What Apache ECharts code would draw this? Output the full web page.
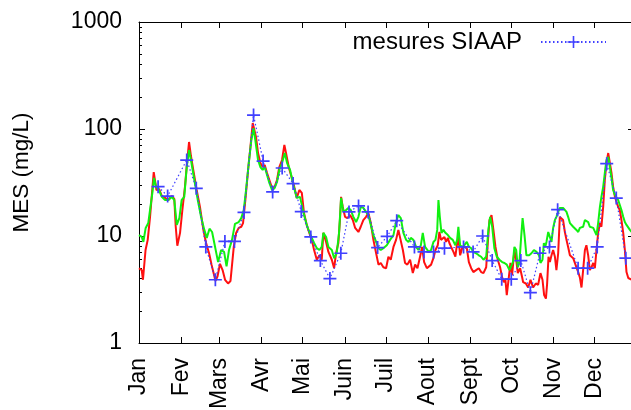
<!DOCTYPE html>
<html>
<head>
<meta charset="utf-8">
<script src="https://cdn.jsdelivr.net/npm/echarts@6/dist/echarts.min.js"></script>
<style>
  html, body { margin: 0; padding: 0; background: #fff; }
  #chart { width: 631px; height: 410px; }
</style>
</head>
<body>
<div id="chart"></div>
<script>
// Month labels on the day-of-year axis
const monthNames = ['Jan', 'Fev', 'Mars', 'Avr', 'Mai', 'Juin', 'Juil', 'Aout', 'Sept', 'Oct', 'Nov', 'Dec'];
const monthStartDays = [0, 31, 59, 90, 120, 151, 181, 212, 243, 273, 304, 334];

// Log axis ticks
const yMajorTicks = [1, 10, 100, 1000];
const yMinorTicks = [2, 3, 4, 5, 6, 7, 8, 9, 20, 30, 40, 50, 60, 70, 80, 90, 200, 300, 400, 500, 600, 700, 800, 900];

// Modelled MES, red curve (day of year, mg/L)
const redDays = [0, 2, 2.9, 4.8, 6.4, 8.1, 9.3, 10.8, 12.8, 14.7,
  16.7, 19.1, 21.5, 24, 25.9, 26.9, 28.1, 30.1, 31.8, 33.7,
  35.4, 36.7, 38.1, 39.8, 42.3, 44.7, 47.2, 49.2, 51.4, 53.2,
  56.1, 57.6, 59.4, 61.3, 63.1, 65.3, 67.1, 69.5, 71.2, 73.1,
  75, 76.3, 78, 80, 81.7, 83.4, 84.4, 85.8, 87.3, 89,
  90.7, 92.2, 93.9, 95.6, 97.6, 99.5, 101.2, 102.9, 104.9, 106.6,
  107.8, 109.8, 110.8, 113.2, 115.7, 117.6, 119.4, 121, 123, 124.9,
  126.7, 128.4, 130.4, 132.3, 134, 135.2, 137.2, 138.9, 141.4, 143.1,
  144.5, 146.2, 147.5, 148.2, 149.4, 151.1, 152.8, 154.8, 156.8, 158.5,
  160.9, 162.6, 164.5, 166.5, 168.2, 170, 171.9, 173.9, 175.6, 177.3,
  179.2, 181.2, 182.9, 184.6, 186.6, 188.5, 190.2, 191.5, 193.5, 195.1,
  196.8, 198.8, 200.8, 202.5, 204.2, 206.1, 207.6, 209.1, 211.1, 212.5,
  214.2, 215.9, 217.4, 219.1, 220.3, 221.5, 222.8, 224, 225.2, 226.5,
  227.6, 228.9, 230.6, 232, 233.1, 234.2, 235.5, 237, 238.6, 240.4,
  241.9, 243.6, 245.2, 247.2, 249.2, 250.9, 252.6, 254.6, 255.8, 257,
  258.5, 259.9, 261.4, 263.1, 264.8, 266.3, 267.5, 268.7, 269.7, 271.2,
  272.4, 273.6, 275.3, 276.6, 277.8, 279.5, 281, 281.7, 283.7, 285.4,
  287.1, 289, 291, 292.7, 294.4, 295.9, 297.1, 298.4, 299.3, 300.3,
  301.3, 302.5, 303.7, 305, 306.1, 307.4, 308.6, 309.8, 311, 312.3,
  313.5, 314.7, 316, 317.1, 318.4, 319.6, 320.8, 322.1, 323.3, 324.5,
  325.7, 327, 328.1, 329.4, 330.6, 331.8, 333.1, 334.3, 335.5, 336.7,
  338, 339.1, 340.4, 341.6, 342.8, 344.1, 345.3, 346.5, 347.7, 349,
  350.2, 351.4, 352.6, 353.8, 355.1, 356.3, 357.5, 358.8, 360, 361.2];
const redValues = [5.0, 4.8, 3.9, 7.4, 9.2, 15.1, 23.2, 39.6, 26.9, 27.5,
  23.7, 22.7, 21.7, 23.7, 22.2, 12.4, 8.1, 10.7, 17.5, 28.8,
  51.3, 75.6, 55.9, 41.4, 26.9, 18.7, 11.4, 8.6, 6.9, 5.4,
  3.8, 4.2, 5.5, 4.8, 3.9, 3.6, 3.8, 7.9, 10.7, 11.9,
  12.2, 13.2, 21.7, 41.4, 67.9, 113.8, 118.8, 84.2, 59.6, 48.1,
  44.1, 46.1, 38.8, 33.4, 28.1, 28.8, 33.4, 44.1, 51.3, 70.9,
  59.6, 44.1, 39.6, 31.3, 22.7, 26.9, 25.3, 16.4, 12.7, 10.7,
  9.2, 7.4, 6.0, 6.6, 6.0, 10.7, 8.8, 7.1, 6.0, 5.0,
  6.9, 8.6, 15.1, 23.2, 18.7, 15.1, 14.7, 15.7, 14.1, 11.9,
  10.9, 12.2, 14.1, 15.1, 16.4, 13.2, 9.2, 6.9, 5.4, 5.6,
  5.1, 5.0, 6.4, 6.0, 7.9, 9.2, 11.4, 9.6, 7.4, 5.6,
  5.4, 6.0, 4.5, 5.4, 5.0, 6.4, 7.9, 5.7, 5.0, 5.1,
  5.4, 6.2, 7.4, 8.2, 10.9, 9.2, 9.6, 9.8, 8.8, 9.6,
  8.6, 7.9, 7.1, 6.4, 8.2, 9.8, 6.6, 7.7, 7.9, 7.7,
  5.7, 5.0, 4.6, 4.8, 5.0, 4.6, 4.5, 5.1, 8.6, 14.1,
  15.7, 11.4, 7.9, 6.0, 5.1, 4.1, 3.7, 3.9, 2.8, 4.1,
  5.6, 4.3, 7.4, 6.0, 4.5, 5.0, 4.1, 3.7, 3.6, 3.3,
  3.9, 3.3, 3.6, 3.5, 4.5, 3.9, 2.8, 2.6, 3.6, 6.4,
  5.7, 6.6, 7.4, 6.4, 4.8, 6.9, 15.1, 15.7, 14.1, 10.9,
  9.2, 7.9, 6.6, 6.4, 6.2, 6.0, 5.1, 4.6, 4.1, 3.3,
  4.8, 7.4, 8.2, 6.6, 4.8, 5.1, 5.6, 5.0, 7.4, 10.7,
  13.2, 12.2, 18.7, 33.4, 48.1, 59.6, 48.1, 38.8, 28.8, 23.2,
  20.8, 18.7, 17.5, 14.1, 10.7, 7.4, 4.6, 4.05, 3.9, 3.9];

// Modelled MES, green curve (day of year, mg/L)
const greenDays = [0, 2, 3.2, 4.9, 6.8, 8.1, 9.8, 11, 12.5, 14.7,
  16.7, 19.1, 21.5, 24, 25.9, 27.7, 29.6, 31.3, 33.2, 35,
  36.7, 38.1, 40.6, 43.1, 45.5, 47.9, 49.7, 51.7, 53.6, 55.8,
  58, 60.2, 62.4, 64.2, 66, 68.2, 70.4, 73.1, 75, 76.8,
  78.5, 80.5, 82.4, 83.9, 85.3, 87.3, 89, 90.7, 92.2, 93.9,
  95.6, 97.6, 99.5, 101.2, 102.9, 104.9, 106.9, 108.6, 110.8, 113.2,
  115.7, 118.1, 120.5, 123, 124.9, 126.7, 128.4, 130.4, 132.3, 134,
  135.2, 137.2, 138.9, 141.4, 143.1, 145, 146.7, 148.2, 149.9, 151.9,
  153.5, 155.3, 157.2, 159.2, 160.9, 162.6, 164.5, 166.5, 168.2, 170,
  171.9, 173.9, 175.6, 177.3, 179.2, 181.7, 184.1, 186.6, 188.5, 190.2,
  192, 193.9, 195.9, 197.6, 199.3, 201.2, 203.2, 204.9, 206.7, 208.1,
  209.8, 212.5, 214.2, 215.9, 217.4, 218.7, 219.6, 220.6, 221.8, 223.2,
  224.7, 226.5, 228.1, 230.1, 232, 233.3, 234.2, 235.5, 237, 238.6,
  240.4, 241.9, 243.6, 245.2, 247.2, 249.2, 250.9, 252.6, 254.6, 256.2,
  257.5, 259, 260.6, 262.4, 264.3, 266.3, 268, 269.7, 271.7, 272.9,
  274.2, 275.3, 276.6, 277.8, 279, 280.2, 281.3, 282.7, 284.1, 286.1,
  287.8, 289.6, 291.5, 293.4, 294.4, 295.9, 296.9, 297.9, 298.8, 300.1,
  301.3, 302.5, 303.7, 305, 306.1, 307.4, 308.6, 309.8, 311, 312.3,
  313.5, 314.7, 316, 317.1, 318.4, 319.6, 320.8, 322.1, 323.3, 324.5,
  325.7, 327, 328.1, 329.4, 330.6, 331.8, 333.1, 334.3, 335.5, 336.7,
  338, 339.1, 340.4, 341.6, 342.8, 344.1, 345.3, 346.5, 347.7, 349,
  350.2, 351.4, 352.6, 353.8, 355.1, 356.3, 357.5, 358.8, 360, 361.2];
const greenValues = [10.2, 9.8, 8.8, 11.9, 13.2, 17.5, 25.3, 34.9, 28.8, 26.9,
  23.2, 21.7, 21.7, 23.2, 21.7, 12.7, 14.7, 21.7, 23.2, 44.1,
  63.6, 51.3, 33.4, 21.7, 15.1, 11.4, 9.6, 11.7, 10.9, 7.9,
  5.7, 7.4, 7.1, 5.2, 7.4, 9.2, 13.0, 13.5, 14.7, 17.5,
  26.9, 48.1, 78.9, 102, 78.9, 51.3, 44.1, 41.4, 44.1, 37.2,
  31.3, 26.9, 28.1, 32.0, 41.4, 48.1, 59.6, 48.1, 41.4, 30.0,
  22.7, 23.2, 16.8, 12.7, 10.9, 9.6, 8.6, 7.7, 7.4, 7.9,
  10.7, 9.8, 7.9, 7.4, 6.2, 6.9, 10.7, 22.7, 16.8, 17.5,
  18.3, 17.5, 15.1, 13.5, 15.1, 18.7, 18.3, 16.8, 15.7, 12.7,
  10.2, 8.8, 7.7, 7.4, 7.7, 8.2, 9.2, 10.2, 13.5, 15.7,
  14.7, 10.7, 9.2, 8.8, 9.6, 9.2, 7.9, 7.4, 8.2, 10.7,
  7.9, 7.1, 7.4, 8.8, 9.2, 11.4, 21.7, 15.1, 10.7, 11.4,
  10.7, 10.2, 9.6, 9.2, 8.2, 9.2, 12.2, 8.2, 7.9, 8.2,
  8.8, 7.9, 7.7, 7.1, 6.9, 6.6, 6.4, 6.0, 6.4, 11.4,
  15.1, 12.2, 7.7, 6.4, 6.0, 5.7, 5.6, 5.4, 4.8, 4.8,
  5.7, 7.9, 7.4, 5.1, 5.7, 9.6, 14.7, 10.2, 6.6, 6.6,
  6.9, 7.4, 7.1, 6.6, 5.6, 6.0, 8.6, 7.9, 8.8, 10.9,
  9.8, 8.8, 11.9, 14.1, 15.1, 16.8, 18.3, 18.7, 18.3, 18.7,
  16.8, 15.1, 13.2, 12.7, 12.2, 11.9, 11.4, 10.9, 11.9, 11.4,
  12.2, 14.1, 14.7, 13.5, 12.2, 12.2, 11.9, 11.4, 10.2, 13.2,
  18.7, 23.2, 28.8, 38.8, 51.3, 54.7, 44.1, 34.9, 26.9, 24.2,
  23.2, 21.7, 19.5, 17.5, 15.1, 13.5, 12.7, 12.2, 11.4, 10.9];

// Weekly SIAAP measurements (day of year, mg/L)
const siaapDays = [14, 21, 35, 42, 49, 56, 63, 70, 77, 84,
  91, 98, 105, 113, 119, 126, 133, 140, 148, 154,
  161, 168, 175, 182, 189, 202, 209, 216, 224, 238,
  245, 252, 259, 266, 273, 280, 287, 294, 301, 307,
  322, 329, 336, 343, 350, 357];
const siaapValues = [28.9, 23.6, 51.3, 27.9, 7.9, 3.9, 8.9, 8.9, 16.6, 135,
  50.2, 25.8, 43.2, 30.9, 16.9, 9.8, 5.9, 4.0, 6.9, 16.8,
  19.1, 16.8, 7.8, 9.9, 13.9, 7.9, 7.1, 7.1, 7.7, 7.9,
  7.1, 10.0, 5.9, 3.95, 3.95, 5.9, 2.95, 6.9, 7.9, 17.6,
  5.0, 5.0, 7.9, 47.4, 22.6, 6.2];

const pairs = (xs, ys) => xs.map((x, i) => [x, ys[i]]);

const FONT = '"Liberation Sans", Arial, Helvetica, sans-serif';
const BLUE = '#4040ff';
const PLUS = 'path://M0,5.2H12V6.8H0Z M5.2,0H6.8V12H5.2Z';

function logAxis(position, ticks, tickLen, withLine, withLabels) {
  const axis = {
    type: 'log', logBase: 10, min: 1, max: 1000, position: position,
    axisLine: { show: withLine, onZero: false, lineStyle: { color: '#000', width: 1 } },
    axisTick: { show: true, inside: true, length: tickLen, customValues: ticks,
      lineStyle: { color: '#000', width: 1 } },
    axisLabel: { show: false },
    splitLine: { show: false },
    minorTick: { show: false }
  };
  if (withLabels) {
    axis.axisLabel = {
      show: true, customValues: ticks, fontSize: 23, color: '#000', fontFamily: FONT, margin: 17,
      formatter: v => String(Math.round(v))
    };
    axis.name = 'MES (mg/L)';
    axis.nameLocation = 'middle';
    axis.nameGap = 106;
    // left padding lifts the rotated title above the plot's mid-height
    axis.nameTextStyle = { fontSize: 22.5, color: '#000', fontFamily: FONT, padding: [0, 0, 0, 20] };
  }
  return axis;
}

function dayAxis(position, withLabels) {
  return {
    type: 'value', min: 0, max: 363, position: position,
    axisLine: { show: true, onZero: false, lineStyle: { color: '#000', width: 1 } },
    axisTick: { show: true, inside: true, length: 6, customValues: monthStartDays,
      lineStyle: { color: '#000', width: 1 } },
    axisLabel: withLabels ? {
      show: true, customValues: monthStartDays, rotate: 90, margin: 15,
      fontSize: 23, color: '#000', fontFamily: FONT,
      formatter: v => monthNames[monthStartDays.indexOf(Math.round(v))] || ''
    } : { show: false },
    splitLine: { show: false }
  };
}

const chart = echarts.init(document.getElementById('chart'), null, { renderer: 'canvas' });
chart.setOption({
  animation: false,
  backgroundColor: '#fff',
  grid: { left: 139, right: -3, top: 22, bottom: 67, containLabel: false, outerBoundsMode: 'none' },
  legend: {
    data: ['mesures SIAAP'],
    right: 24, top: 30, padding: 0,
    align: 'right',
    itemWidth: 65, itemHeight: 15,
    textStyle: { fontSize: 24, color: '#000', fontFamily: FONT, padding: [0, 14, 0, 0] },
    selectedMode: false
  },
  xAxis: [dayAxis('bottom', true), dayAxis('top', false)],
  yAxis: [
    logAxis('left', yMajorTicks, 6, true, true),
    logAxis('left', yMinorTicks, 3, false, false),
    logAxis('right', yMajorTicks, 6, true, false),
    logAxis('right', yMinorTicks, 3, false, false)
  ],
  series: [
    {
      name: 'modele rouge', type: 'line', data: pairs(redDays, redValues),
      showSymbol: false, symbol: 'none',
      lineStyle: { color: '#ff1010', width: 2 }, z: 2
    },
    {
      name: 'modele vert', type: 'line', data: pairs(greenDays, greenValues),
      showSymbol: false, symbol: 'none',
      lineStyle: { color: '#10f010', width: 2 }, z: 3
    },
    {
      name: 'mesures SIAAP', type: 'line', data: pairs(siaapDays, siaapValues),
      symbol: PLUS, symbolSize: 13, showAllSymbol: true,
      itemStyle: { color: BLUE },
      lineStyle: { color: BLUE, width: 1.2, type: [1.5, 2.5] }, z: 4
    }
  ]
});
</script>
</body>
</html>
